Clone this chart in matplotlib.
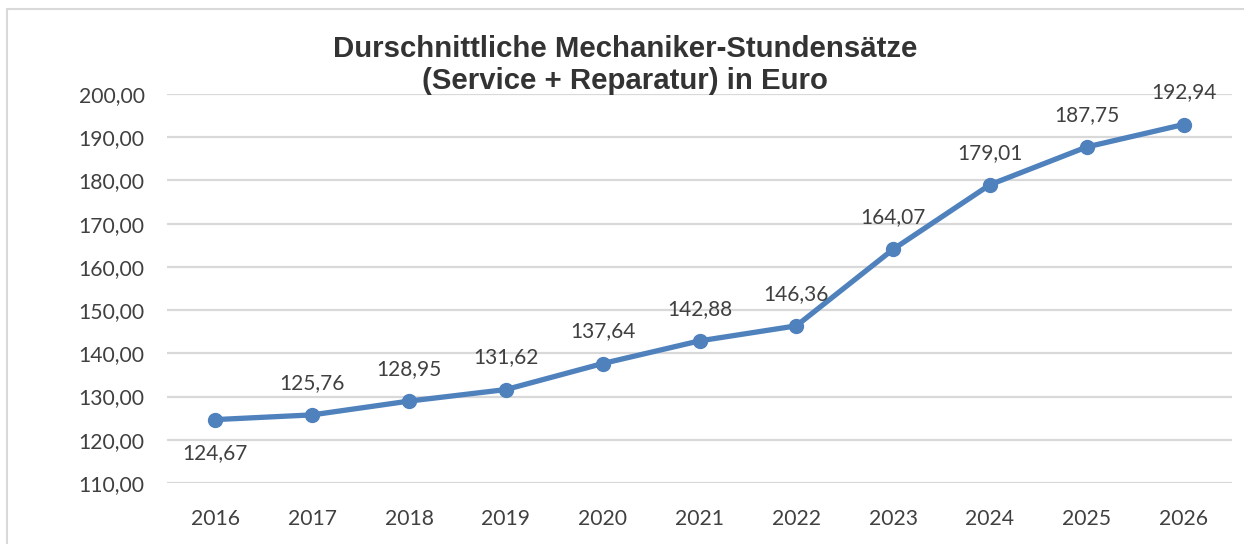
import matplotlib
matplotlib.use("Agg")
import matplotlib.pyplot as plt
from matplotlib.patches import Rectangle

years = ["2016", "2017", "2018", "2019", "2020", "2021", "2022", "2023", "2024", "2025", "2026"]
rates = [124.67, 125.76, 128.95, 131.62, 137.64, 142.88, 146.36, 164.07, 179.01, 187.75, 192.94]
yticks = [110, 120, 130, 140, 150, 160, 170, 180, 190, 200]
title = "Durschnittliche Mechaniker-Stundensätze\n(Service + Reparatur) in Euro"

W, H = 1244, 544
fig = plt.figure(figsize=(W / 100, H / 100), dpi=100)
fig.patch.set_facecolor("white")

# chart border (left/top visible)
fig.patches.append(Rectangle((7 / W, -0.05), 1.2, 1 - 9 / H + 0.05, transform=fig.transFigure,
                             fill=False, edgecolor="#D9D9D9", linewidth=1.5))

ax = fig.add_axes([167 / W, 1 - 483 / H, (1232 - 167) / W, (483 - 94) / H])
x = list(range(len(years)))
ax.plot(x, rates, color="#4F81BD", linewidth=3.8, marker="o", markersize=10,
        solid_capstyle="round", zorder=3)

for i, v in enumerate(rates):
    lab = f"{v:.2f}".replace(".", ",")
    off = -34 if i == 0 else 32
    ax.annotate(lab, (i, v), xytext=(0, off), textcoords="offset pixels",
                ha="center", va="center", fontsize=15, family="Lato", color="#404040")

ax.set_xlim(-0.5, len(years) - 0.5)
ax.set_ylim(110, 200)
ax.set_yticks(yticks)
ax.set_yticklabels([f"{t:.2f}".replace(".", ",") for t in yticks])
ax.set_xticks(x)
ax.set_xticklabels(years)
for lab in ax.get_xticklabels() + ax.get_yticklabels():
    lab.set_family("Lato")
    lab.set_fontsize(15.2)
    lab.set_color("#404040")
ax.tick_params(axis="both", length=0)
ax.tick_params(axis="y", pad=16)
ax.tick_params(axis="x", pad=19)
ax.grid(axis="y", color="#D9D9D9", linewidth=1.6)
ax.set_axisbelow(True)
for s in ax.spines.values():
    s.set_visible(False)

fig.text(625 / W, 1 - 65 / H, title, ha="center", va="center", fontsize=21.2,
         fontweight="bold", family="Liberation Sans", color="#333333", linespacing=1.15)

fig.savefig("out.png", dpi=100, facecolor="white")
